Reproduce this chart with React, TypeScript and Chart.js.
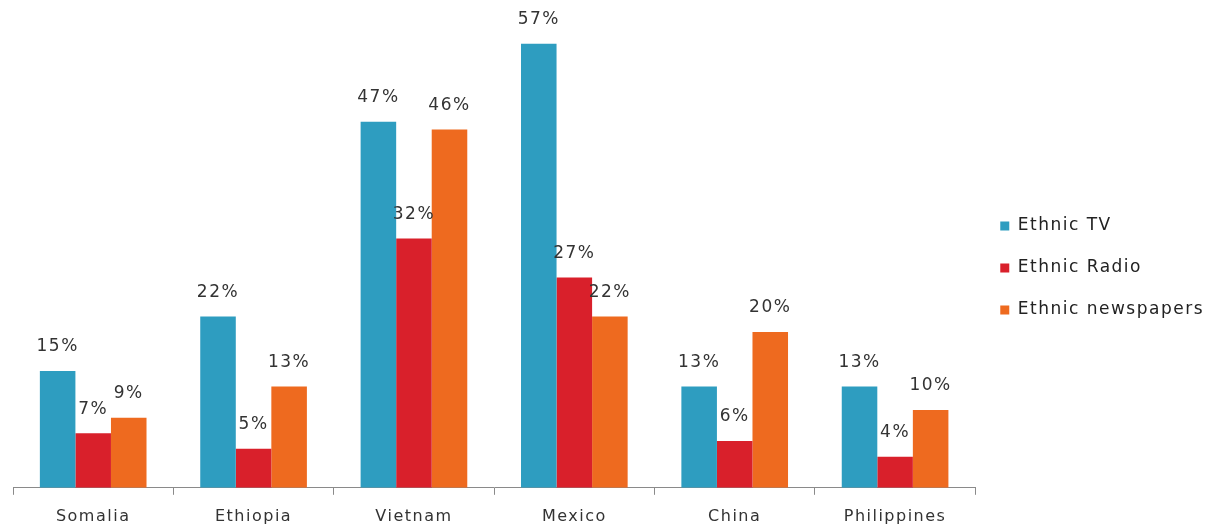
import React, { useEffect, useRef } from "react";
import { Chart, registerables } from "chart.js";

Chart.register(...registerables);

const categories = ["Somalia", "Ethiopia", "Vietnam", "Mexico", "China", "Philippines"];
const ethnicTV = [15, 22, 47, 57, 13, 13];
const ethnicRadio = [7, 5, 32, 27, 6, 4];
const ethnicNewspapers = [9, 13, 46, 22, 20, 10];
const seriesNames = ["Ethnic TV", "Ethnic Radio", "Ethnic newspapers"];
const seriesColors = ["#2E9DC0", "#D9202B", "#EE6A1F"];

const FONT = "'DejaVu Sans', sans-serif";
const SPACING = "1.5px";

const spacingPlugin = {
  id: "letterSpacing",
  beforeUpdate(chart: any) {
    chart.ctx.letterSpacing = SPACING;
  },
  beforeLayout(chart: any) {
    chart.ctx.letterSpacing = SPACING;
  },
  beforeDraw(chart: any) {
    chart.ctx.letterSpacing = SPACING;
  },
};

const labelPlugin = {
  id: "valueLabels",
  afterDatasetsDraw(chart: any) {
    const ctx = chart.ctx;
    ctx.save();
    ctx.letterSpacing = SPACING;
    ctx.font = `17px ${FONT}`;
    ctx.fillStyle = "#333333";
    ctx.textAlign = "center";
    ctx.textBaseline = "middle";
    chart.data.datasets.forEach((ds: any, i: number) => {
      const meta = chart.getDatasetMeta(i);
      meta.data.forEach((bar: any, j: number) => {
        ctx.fillText(`${ds.data[j]}%`, bar.x, bar.y - 24);
      });
    });
    ctx.restore();
  },
};

export default function App() {
  const ref = useRef<HTMLCanvasElement | null>(null);
  useEffect(() => {
    if (!ref.current) return;
    const seriesData = [ethnicTV, ethnicRadio, ethnicNewspapers];
    const chart = new Chart(ref.current, {
      type: "bar",
      data: {
        labels: categories,
        datasets: seriesNames.map((name, i) => ({
          label: name,
          data: seriesData[i],
          backgroundColor: seriesColors[i],
          borderWidth: 0,
          categoryPercentage: 0.665,
          barPercentage: 1,
        })),
      },
      options: {
        responsive: true,
        maintainAspectRatio: false,
        animation: false,
        layout: { padding: { left: 5, top: -10, right: 0, bottom: -12 } },
        plugins: {
          legend: {
            position: "right",
            align: "center",
            labels: {
              boxWidth: 9,
              boxHeight: 9,
              padding: 25,
              color: "#222222",
              font: { family: FONT, size: 17 },
            },
          },
          tooltip: { enabled: false },
        },
        scales: {
          x: {
            grid: {
              display: true,
              drawOnChartArea: false,
              drawTicks: true,
              tickLength: 7,
              color: "#8a8a8a",
            },
            border: { display: true, color: "#8a8a8a" },
            ticks: {
              color: "#333333",
              padding: 12,
              font: { family: FONT, size: 16 },
            },
          },
          y: {
            display: false,
            min: 0,
            max: 61.6,
          },
        },
      },
      plugins: [spacingPlugin, labelPlugin],
    });
    return () => chart.destroy();
  }, []);
  return (
    <div style={{ width: 1206, height: 518, position: "relative" }}>
      <canvas ref={ref} />
    </div>
  );
}
